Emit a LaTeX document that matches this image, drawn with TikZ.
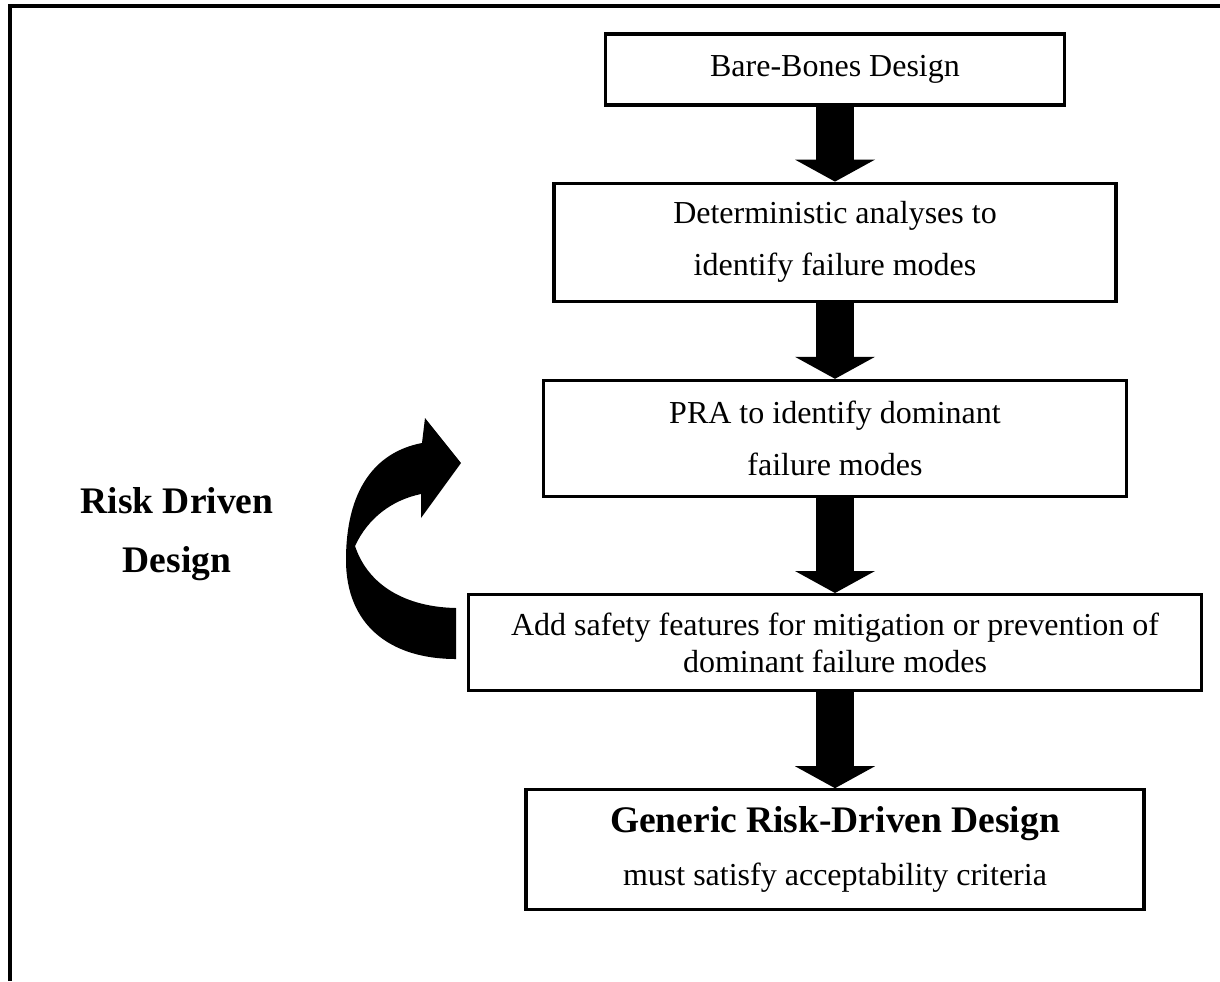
\documentclass[tikz,border=0pt]{standalone}
\usepackage{fontspec}
\setmainfont{Liberation Serif}
\usetikzlibrary{positioning,arrows.meta}

\tikzset{
  stage/.style={draw, line width=1.6pt, align=center, inner sep=2pt,
    font=\fontsize{16}{26}\selectfont},
  bigarrow/.style={line width=19pt, -{Triangle[width=40pt,length=11pt,line width=0pt]}},
}

\begin{document}
\begin{tikzpicture}[x=0.5pt,y=-0.5pt]
  \useasboundingbox (0,0) rectangle (1220,981);
  \draw[line width=1.8pt] (10,981) -- (10,6) -- (1220,6);

  \node[stage,minimum width=229.5pt,minimum height=35.5pt] (bare) at (835,69.5) {Bare-Bones Design};
  \node[stage,minimum width=281pt,minimum height=59pt] (det) [below=37.5pt of bare] {Deterministic analyses to\\identify failure modes};
  \node[stage,minimum width=291.5pt,minimum height=58pt] (pra) [below=38pt of det] {PRA to identify dominant\\failure modes};
  \node[stage,minimum width=366.5pt,minimum height=48pt,font=\fontsize{16}{18.5}\selectfont] (add) [below=47.5pt of pra] {Add safety features for mitigation or prevention of\\dominant failure modes};
  \node[stage,minimum width=309pt,minimum height=60pt,font=\fontsize{16}{26.5}\selectfont] (gen) [below=48pt of add] {{\bfseries\fontsize{18.75}{22}\selectfont Generic Risk-Driven Design}\\must satisfy acceptability criteria};
  \node[font=\bfseries\fontsize{18.75}{29.5}\selectfont,align=center] (risk) at (177,534) {Risk Driven\\Design};

  \draw[bigarrow] (bare) -- (det);
  \draw[bigarrow] (det) -- (pra);
  \draw[bigarrow] (pra) -- (add);
  \draw[bigarrow] (add) -- (gen);

  % loop back from the safety features to the PRA
  \fill (456,659) -- (456,608) .. controls (405,607) and (368,585) .. (355,546)
    .. controls (368,518) and (392,500) .. (421,494) -- (421,518) -- (461,463)
    -- (425,418) -- (422,443) .. controls (375,452) and (346,490) .. (346,560)
    .. controls (346,625) and (390,659) .. (456,659) -- cycle;
\end{tikzpicture}
\end{document}
